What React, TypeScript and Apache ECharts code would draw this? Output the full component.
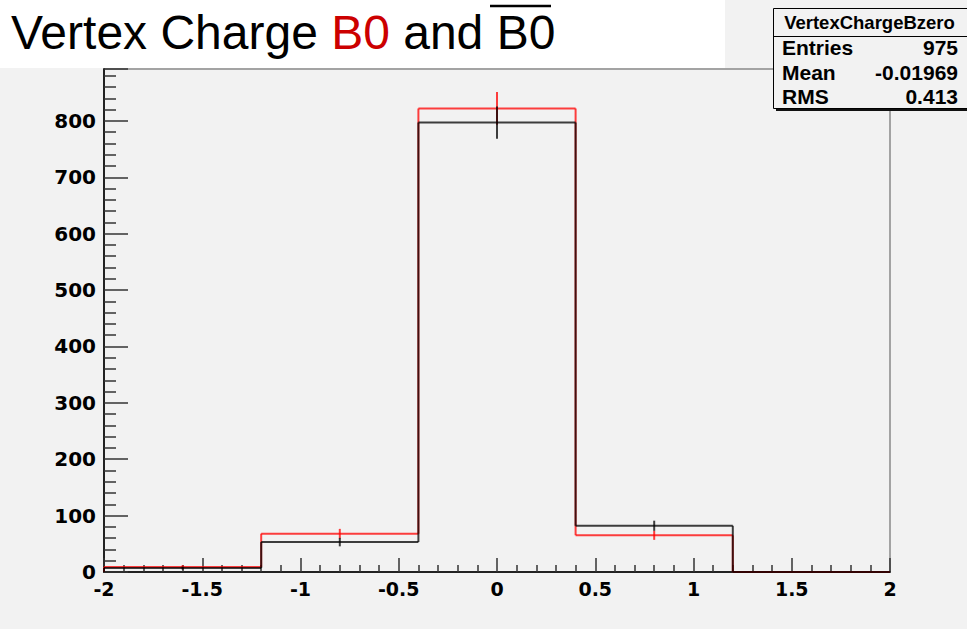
import React, { useEffect, useRef } from "react";
import * as echarts from "echarts";

// Bin edges of the histogram (5 bins from -2 to 2)
const binEdges = [-2, -1.2, -0.4, 0.4, 1.2, 2];
// B0 (red) histogram contents and errors
const b0Counts = [9, 68, 822, 65, 0];
const b0Errors = [3, 8.5, 29, 8, 0];
// B0-bar (black) histogram contents and errors
const b0barCounts = [7, 53, 797, 82, 0];
const b0barErrors = [2.6, 7.5, 28.5, 9, 0];

// Stats box
const statsTitle = "VertexChargeBzero";
const statsLabels = ["Entries", "Mean", "RMS"];
const statsValues = ["975", "-0.01969", "0.413"];

const xMin = -2;
const xMax = 2;
const xStep = 0.5;
const yMin = 0;
const yMax = 892;
const yStep = 100;

function histSeries(name: string, counts: number[], errors: number[], color: string, opacity: number, z: number) {
  const data = counts.map((v, i) => [
    binEdges[i],
    binEdges[i + 1],
    v,
    i === 0 ? 0 : counts[i - 1],
    errors[i],
  ]);
  const n = counts.length;
  return {
    type: "custom",
    name,
    data,
    z,
    encode: { x: [0, 1], y: [2] },
    renderItem: (params: any, api: any) => {
      const lo = api.value(0);
      const hi = api.value(1);
      const v = api.value(2);
      const prev = api.value(3);
      const e = api.value(4);
      const pPrev = api.coord([lo, prev]);
      const pLo = api.coord([lo, v]);
      const pHi = api.coord([hi, v]);
      const style = { stroke: color, lineWidth: 2, opacity };
      const children: any[] = [
        { type: "line", shape: { x1: pPrev[0], y1: pPrev[1], x2: pLo[0], y2: pLo[1] }, style },
        { type: "line", shape: { x1: pLo[0], y1: pLo[1], x2: pHi[0], y2: pHi[1] }, style },
      ];
      if (e > 0) {
        const c = (lo + hi) / 2;
        const t = api.coord([c, v + e]);
        const b = api.coord([c, v - e]);
        children.push({ type: "line", shape: { x1: t[0], y1: t[1], x2: b[0], y2: b[1] }, style });
      }
      if (params.dataIndex === n - 1) {
        const p0 = api.coord([hi, 0]);
        children.push({ type: "line", shape: { x1: pHi[0], y1: pHi[1], x2: p0[0], y2: p0[1] }, style });
      }
      return { type: "group", children };
    },
  };
}

export default function App() {
  const ref = useRef<HTMLDivElement>(null);
  useEffect(() => {
    document.body.style.margin = "0";
    if (!ref.current) return;
    const chart = echarts.init(ref.current, undefined, { renderer: "svg" });
    const tickStyle = { color: "#333", width: 1.5 };
    const labelFont = { fontFamily: "DejaVu Sans", fontWeight: "bold" as const, color: "#000" };
    const statFont = "Liberation Sans";
    const graphic: any[] = [
      // white title pad
      { type: "rect", z: 100, shape: { x: 0, y: 0, width: 725, height: 68 }, style: { fill: "#ffffff" } },
      {
        type: "text",
        z: 101,
        x: 11,
        y: 32,
        style: {
          text: "{k|Vertex Charge }{r|B0}{k| and B0}",
          verticalAlign: "middle",
          rich: {
            k: { fill: "#000", fontSize: 48, fontFamily: "Liberation Sans" },
            r: { fill: "#cc0000", fontSize: 48, fontFamily: "Liberation Sans" },
          },
        },
      },
      { type: "line", z: 101, shape: { x1: 490, y1: 6, x2: 551, y2: 6 }, style: { stroke: "#000", lineWidth: 2.5 } },
      // stats box shadow + box
      { type: "rect", z: 100, shape: { x: 776, y: 11, width: 220, height: 100 }, style: { fill: "#111" } },
      { type: "rect", z: 101, shape: { x: 773.5, y: 8.5, width: 220, height: 100 }, style: { fill: "#f2f2f2", stroke: "#000", lineWidth: 1 } },
      { type: "line", z: 102, shape: { x1: 773.5, y1: 36.5, x2: 967, y2: 36.5 }, style: { stroke: "#000", lineWidth: 1 } },
      {
        type: "text",
        z: 102,
        x: 869.5,
        y: 22,
        style: { text: statsTitle, fontSize: 18.5, fontWeight: "bold", fontFamily: statFont, fill: "#000", align: "center", verticalAlign: "middle" },
      },
    ];
    const rowY = [47, 72.5, 96];
    statsLabels.forEach((l, i) => {
      graphic.push({
        type: "text",
        z: 102,
        x: 782,
        y: rowY[i],
        style: { text: l, fontSize: 21, fontWeight: "bold", fontFamily: statFont, fill: "#000", align: "left", verticalAlign: "middle" },
      });
      graphic.push({
        type: "text",
        z: 102,
        x: 958,
        y: rowY[i],
        style: { text: statsValues[i], fontSize: 21, fontWeight: "bold", fontFamily: statFont, fill: "#000", align: "right", verticalAlign: "middle" },
      });
    });

    chart.setOption({
      animation: false,
      backgroundColor: "#f2f2f2",
      grid: {
        left: 104,
        right: 77,
        top: 69,
        bottom: 57,
        show: true,
        backgroundColor: "#f2f2f2",
        borderColor: "#555",
        borderWidth: 1,
      },
      xAxis: {
        type: "value",
        min: xMin,
        max: xMax,
        interval: xStep,
        axisLine: { show: true, onZero: false, lineStyle: { color: "#222", width: 2 } },
        axisTick: { show: true, inside: true, length: 14, lineStyle: tickStyle },
        minorTick: { show: true, splitNumber: 5, length: 7, lineStyle: tickStyle },
        splitLine: { show: false },
        minorSplitLine: { show: false },
        axisLabel: { ...labelFont, fontSize: 19, margin: 7, formatter: (v: number) => String(v) },
      },
      yAxis: {
        type: "value",
        min: yMin,
        max: yMax,
        interval: yStep,
        axisLine: { show: true, onZero: false, lineStyle: { color: "#222", width: 2 } },
        axisTick: { show: true, inside: true, length: 24, lineStyle: tickStyle },
        minorTick: { show: true, splitNumber: 5, length: 12, lineStyle: tickStyle },
        splitLine: { show: false },
        minorSplitLine: { show: false },
        axisLabel: { ...labelFont, fontSize: 20, margin: 8, showMaxLabel: false, formatter: (v: number) => String(v) },
      },
      series: [
        histSeries("B0", b0Counts, b0Errors, "#ff0000", 0.75, 2),
        histSeries("B0bar", b0barCounts, b0barErrors, "#000000", 0.75, 3),
      ],
      graphic,
    });
    return () => chart.dispose();
  }, []);
  return (
    <div
      ref={ref}
      style={{ position: "absolute", left: 0, top: 0, width: 967, height: 629, background: "#f2f2f2" }}
    />
  );
}
